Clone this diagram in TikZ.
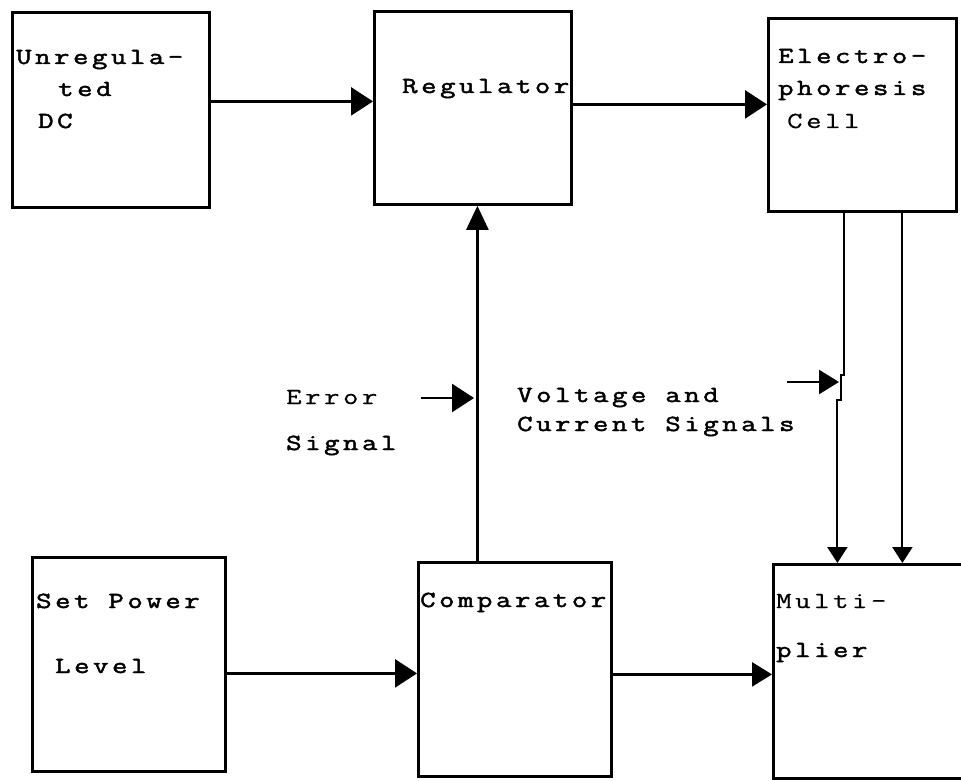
\documentclass[tikz,border=0pt]{standalone}
\usepackage{fontspec}
\usetikzlibrary{arrows.meta}
\newfontfamily\twb[LetterSpace=15.5, FakeStretch=1.3, FakeBold=2]{Latin Modern Mono}
\newfontfamily\twl[LetterSpace=15.5, FakeStretch=1.3, FakeBold=0.6]{Latin Modern Mono}
\tikzset{
  blk/.style={draw, line width=2.8pt, rectangle, anchor=north west, inner sep=0pt},
  txt/.style={anchor=base west, inner sep=0pt, font=\twb\fontsize{23}{26}\selectfont},
  ltxt/.style={anchor=base west, inner sep=0pt, font=\twl\fontsize{23}{26}\selectfont},
  arr/.style={line width=2.6pt, -{Triangle[length=22pt,width=28pt]}},
  sarr/.style={line width=2pt, -{Triangle[length=16pt,width=20pt]}},
}
\begin{document}
\begin{tikzpicture}[x=1pt,y=-1pt]
\clip (0,0) rectangle (961,781);
\fill[white] (0,0) rectangle (961,781);
% boxes
\node[blk, minimum width=197pt, minimum height=195pt] (A) at (11,11) {};
\node[blk, minimum width=197pt, minimum height=193pt] (B) at (373,10) {};
\node[blk, minimum width=188pt, minimum height=193pt] (C) at (767,17) {};
\node[blk, minimum width=193pt, minimum height=214pt] (D) at (31,556) {};
\node[blk, minimum width=193pt, minimum height=214pt] (E) at (417,561) {};
\node[blk, minimum width=218pt, minimum height=214pt] (F) at (772,563) {};
% texts
\node[txt] (tA1) at (16,64) {Unregula-};
\node[txt] (tA2) at (58,96) {ted};
\node[txt] (tA3) at (38,128) {DC};
\node[txt] (tB) at (402,93) {Regulator};
\node[txt] (tC1) at (778,63) {Electro-};
\node[txt] (tC2) at (778,95) {phoresis};
\node[ltxt] (tC3) at (787,128) {Cell};
\node[ltxt] (tE1) at (286,404) {Error};
\node[txt] (tE2) at (286,450) {Signal};
\node[txt] (tV1) at (517,402) {Voltage and};
\node[txt] (tV2) at (517,431) {Current Signals};
\node[txt] (tD1) at (36,608) {Set Power};
\node[txt] (tD2) at (55,673) {Level};
\node[txt] (tEc) at (420,607) {Comparator};
\node[ltxt] (tF1) at (776,608) {Multi-};
\node[txt] (tF2) at (776,657) {plier};
% connectors
\draw[arr] ([yshift=8.5pt]A.east) -- ([yshift=8.5pt]A.east -| B.west);
\draw[arr] ([yshift=3.5pt]B.east) -- ([yshift=3.5pt]B.east -| C.west);
\draw[arr, -{Triangle[length=24pt,width=22pt]}] ([xshift=-37.5pt]E.north) -- ([xshift=-37.5pt]E.north |- B.south);
\draw[arr] ([yshift=-9pt]D.east) -- ([yshift=-9pt]D.east -| E.west);
\draw[arr, -{Triangle[length=20pt,width=24pt]}] ([yshift=-5pt]E.east) -- ([yshift=-5pt]E.east -| F.west);
\coordinate (et) at (421,398);
\coordinate (eh) at (474,398);
\draw[arr] (et) -- (eh);
\coordinate (vt) at (787,382);
\coordinate (vh) at (839,382);
\draw[arr, -{Triangle[length=20pt,width=24pt]}] (vt) -- (vh);
\draw[sarr] ([xshift=-18pt]C.south) -- ++(0,162) -- ++(-3,0) -- ++(0,25) -- ++(-4,0) -- ([xshift=-25pt]C.south |- F.north);
\draw[sarr] ([xshift=40pt]C.south) -- ([xshift=40pt]C.south |- F.north);
\end{tikzpicture}
\end{document}
